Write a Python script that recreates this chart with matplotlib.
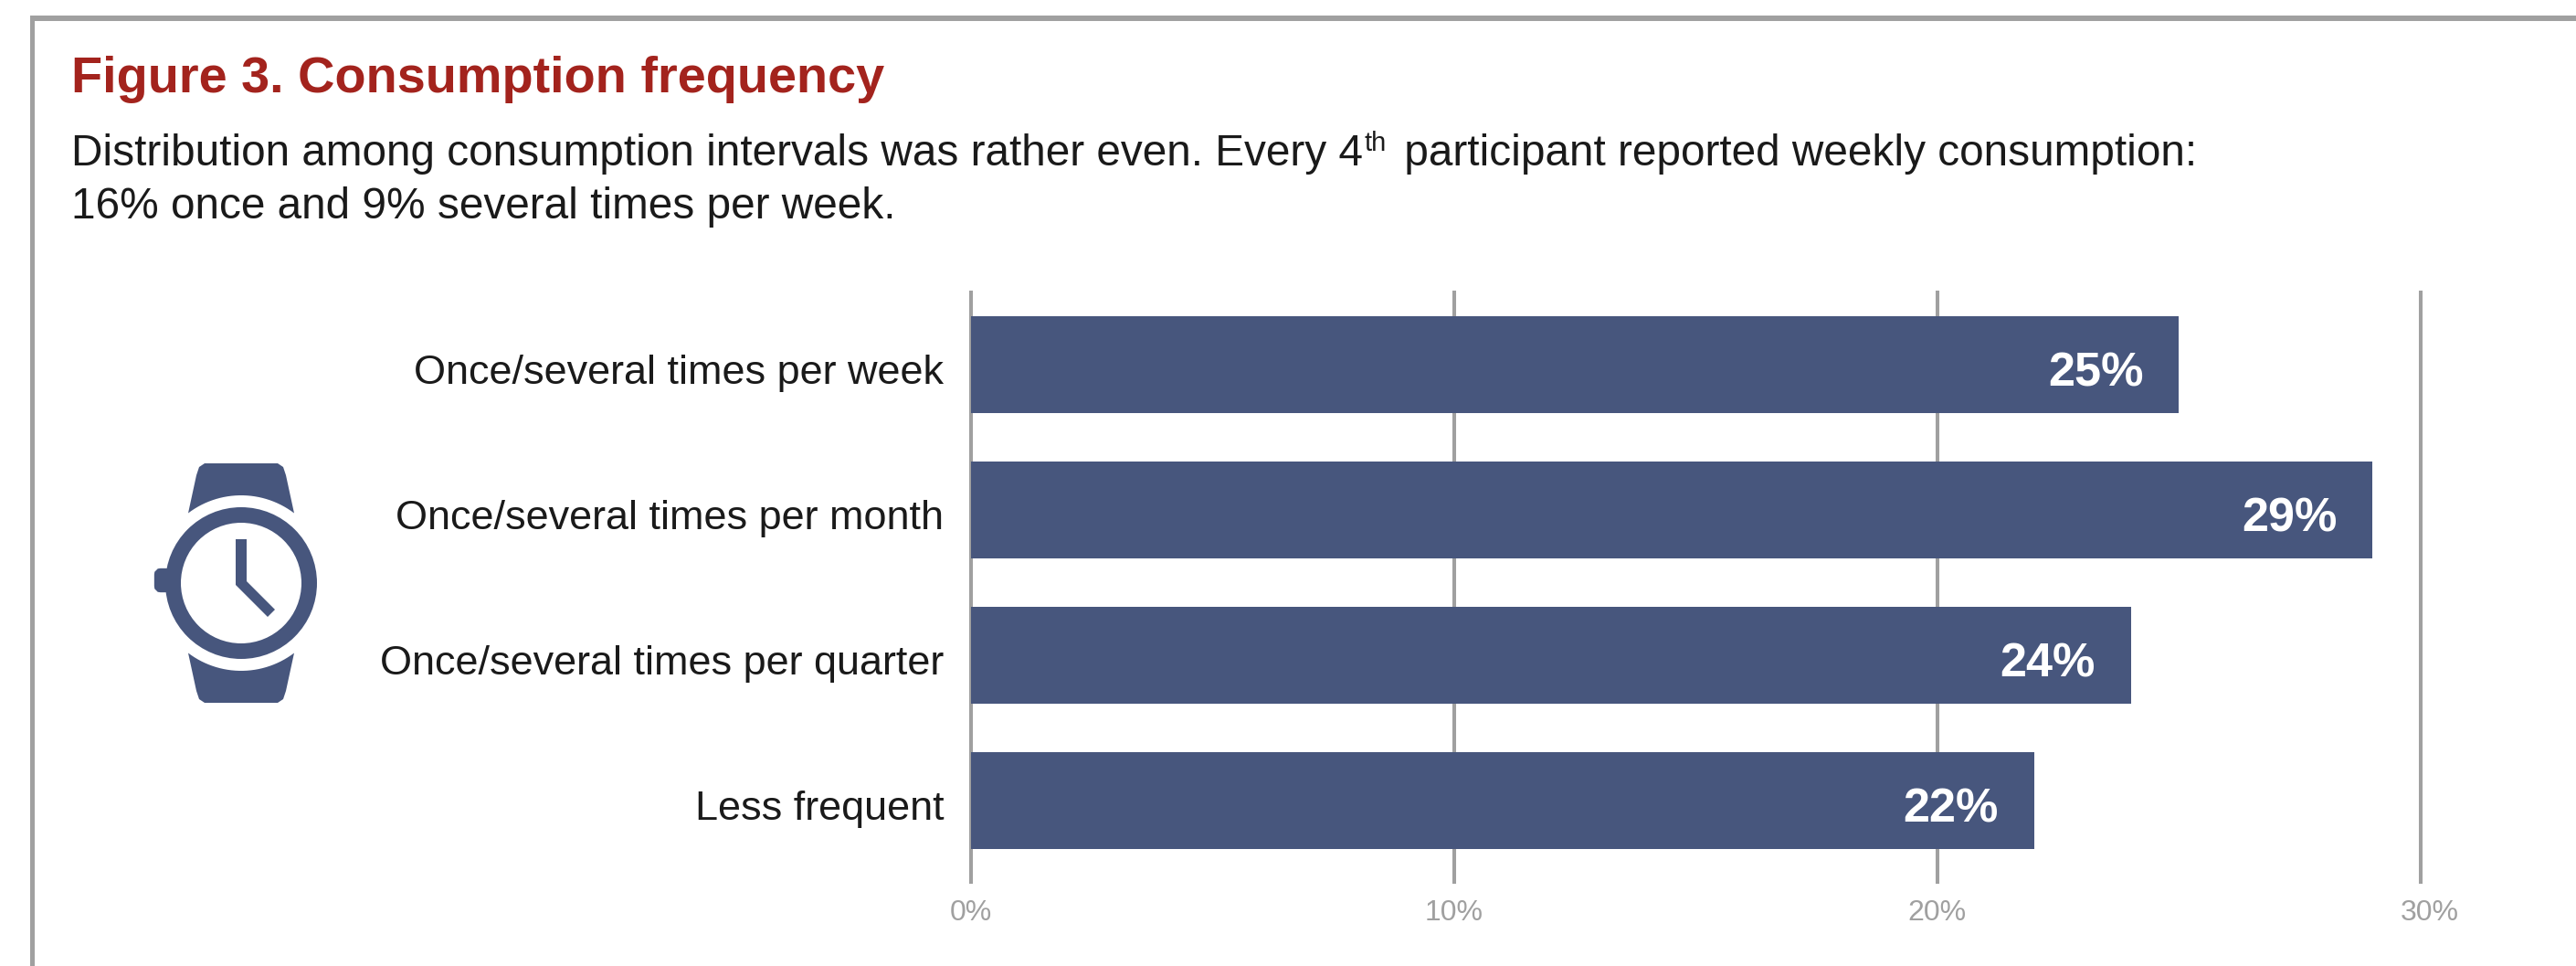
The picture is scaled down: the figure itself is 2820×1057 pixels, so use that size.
import matplotlib
matplotlib.use('Agg')
import matplotlib.pyplot as plt
import numpy as np
from matplotlib.patches import Circle, Polygon, FancyBboxPatch
from matplotlib.transforms import ScaledTranslation

categorias = ['Once/several times per week', 'Once/several times per month',
              'Once/several times per quarter', 'Less frequent']
valores = [25, 29, 24, 22]
ticks = [0, 10, 20, 30]
tick_labels = ['0%', '10%', '20%', '30%']

titulo = 'Figure 3. Consumption frequency'
sub_a = 'Distribution among consumption intervals was rather even. Every 4'
sub_th = 'th'
sub_b = ' participant reported weekly consumption:'
sub_c = '16% once and 9% several times per week.'

AZUL = '#47567D'
CINZA = '#A0A0A0'
W, H = 2820, 1057

plt.rcParams['font.family'] = ['Liberation Sans', 'DejaVu Sans']
fig = plt.figure(figsize=(W / 100, H / 100), dpi=100, facecolor='white')

# camada em pixels: moldura, textos e o icone
bg = fig.add_axes([0, 0, 1, 1])
bg.set_xlim(0, W)
bg.set_ylim(H, 0)
bg.axis('off')
bg.fill_between([33, W], 17, 23, color=CINZA, lw=0)
bg.fill_between([33, 38], 17, H, color=CINZA, lw=0)

bg.text(78, 101, titulo, color='#A3231D', fontsize=40.2, fontweight='bold', va='baseline')
t1 = bg.text(78, 181, sub_a, color='#1A1A1A', fontsize=34.4, va='baseline')
fig.canvas.draw()
r = fig.canvas.get_renderer()
x = t1.get_window_extent(r).x1
t2 = bg.text(x + 1, 165, sub_th, color='#1A1A1A', fontsize=21, va='baseline')
x = t2.get_window_extent(r).x1
bg.text(x + 7, 181, sub_b, color='#1A1A1A', fontsize=34.4, va='baseline')
bg.text(78, 239, sub_c, color='#1A1A1A', fontsize=34.4, va='baseline')

# relogio
cx, cy = 264, 638
ang = np.arcsin(58 / 96)
arco = np.linspace(-ang, ang, 30)
for s in (-1, 1):
    pts = [(cx + 96 * np.sin(a), cy + s * 96 * np.cos(a)) for a in arco]
    pts += [(cx + 49, cy + s * 118), (cx + 46, cy + s * 127), (cx + 40, cy + s * 131),
            (cx - 40, cy + s * 131), (cx - 46, cy + s * 127), (cx - 49, cy + s * 118)]
    bg.add_patch(Polygon(pts, closed=True, fc=AZUL, ec='none'))
bg.add_patch(FancyBboxPatch((173, 626), 12, 18, boxstyle='round,pad=0,rounding_size=3',
                            fc=AZUL, ec=AZUL, lw=6))
bg.add_patch(Circle((cx, cy), 83, fc=AZUL, ec='none'))
bg.add_patch(Circle((cx, cy), 66, fc='white', ec='none'))
bg.add_patch(Polygon([(258, 590), (270, 590), (270, 636), (301, 667), (293, 675), (258, 640)],
                     closed=True, fc=AZUL, ec='none'))

# barras
ax = fig.add_axes([1062.5 / W, 1 - 965 / H, (2650 - 1062.5) / W, (965 - 320) / H])
ax.patch.set_alpha(0)
y = np.arange(len(categorias))
ax.barh(y, valores, height=0.667, color=AZUL, zorder=3)
ax.set_xlim(0, 30)
ax.set_ylim(3.56, -0.497)
ax.set_yticks(y)
ax.set_yticklabels(categorias, fontsize=32.4, color='#1A1A1A')
ax.set_xticks(ticks)
ax.set_xticklabels(tick_labels, fontsize=23, color=CINZA)
ax.tick_params(axis='y', length=0, pad=21)
ax.tick_params(axis='x', length=0, pad=14)
ax.xaxis.grid(True, color=CINZA, lw=2.9, zorder=0)
for g in ax.get_xgridlines():
    g.set_clip_on(False)
for s in ax.spines.values():
    s.set_visible(False)

# ajustes finos dos rotulos
for lab in ax.get_yticklabels():
    lab.set_transform(lab.get_transform() + ScaledTranslation(0, -0.05, fig.dpi_scale_trans))
ult = ax.get_xticklabels()[-1]
ult.set_transform(ult.get_transform() + ScaledTranslation(0.10, 0, fig.dpi_scale_trans))

for i, v in enumerate(valores):
    ax.annotate(f'{v}%', (v, i), xytext=(-28, -7.5), textcoords='offset points', ha='right',
                va='center', color='white', fontsize=37.6, fontweight='bold', zorder=4)

plt.savefig('out.png', dpi=100)
